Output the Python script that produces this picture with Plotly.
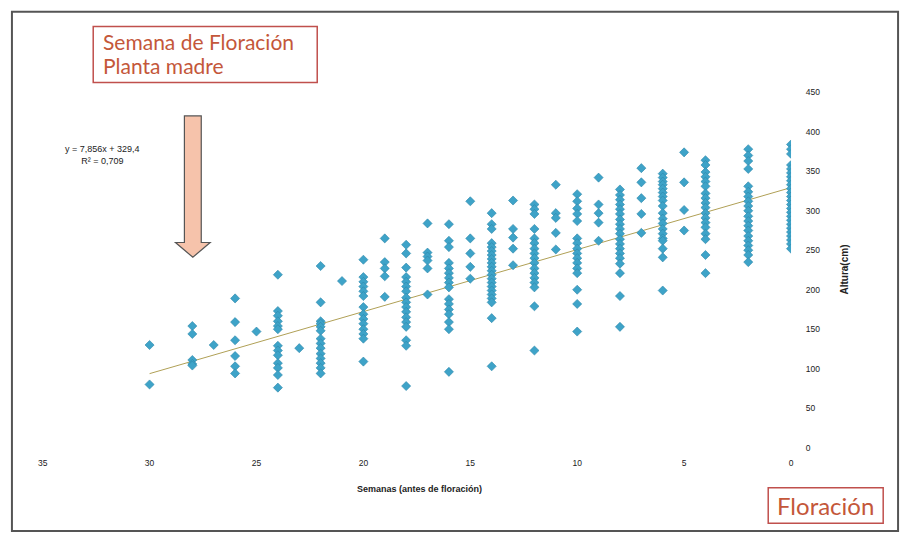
import plotly.graph_objects as go

# alturas (cm) por semana antes de floracion
s30 = [130, 80]
s28 = [154, 144, 111, 106, 104]
s27 = [130]
s26 = [189, 159, 136, 116, 103, 94]
s25 = [147]
s24 = [219, 173, 167, 160, 154, 150, 129, 123, 117, 107, 101, 92, 76]
s23 = [126]
s22 = [230, 184, 160, 157, 153, 148, 138, 132, 126, 119, 113, 107, 101, 94]
s21 = [211]
s20 = [238, 216, 210, 204, 198, 192, 178, 169, 163, 157, 150, 144, 138, 109]
s19 = [265, 235, 227, 217, 191]
s18 = [257, 246, 228, 216, 210, 204, 198, 190, 184, 178, 172, 165, 159, 153, 136, 129, 78]
s17 = [284, 247, 242, 237, 227, 194]
s16 = [283, 262, 254, 234, 227, 221, 215, 209, 203, 188, 182, 175, 169, 159, 150, 96]
s15 = [312, 265, 246, 229, 214]
s14 = [297, 283, 277, 259, 254, 249, 244, 239, 234, 229, 224, 219, 214, 209, 204, 199, 194, 189, 184, 164, 103]
s13 = [313, 277, 266, 252, 231]
s12 = [308, 302, 296, 277, 265, 259, 252, 246, 240, 234, 227, 221, 215, 209, 203, 179, 123]
s11 = [333, 297, 291, 272, 251]
s10 = [321, 312, 303, 296, 287, 265, 259, 252, 246, 240, 234, 227, 221, 200, 182, 147]
s9 = [342, 308, 297, 285, 262]
s8 = [327, 320, 314, 308, 302, 296, 289, 283, 277, 271, 264, 258, 252, 246, 240, 233, 221, 192, 153]
s7 = [354, 336, 316, 296, 272]
s6 = [347, 342, 337, 333, 328, 323, 318, 313, 306, 297, 290, 284, 277, 271, 265, 262, 252, 241, 199]
s5 = [374, 336, 301, 275]
s4 = [364, 358, 349, 343, 337, 331, 322, 316, 310, 304, 297, 291, 285, 279, 271, 264, 244, 221]
s2 = [378, 370, 363, 353, 331, 324, 318, 312, 306, 300, 293, 287, 281, 275, 268, 262, 256, 250, 244, 235]
s0 = [384, 378, 372, 358, 353, 348, 343, 338, 333, 328, 323, 318, 313, 308, 303, 298, 293, 288, 283, 278, 273, 268, 263, 258, 252]

grupos = [(30, s30), (28, s28), (27, s27), (26, s26), (25, s25), (24, s24), (23, s23),
          (22, s22), (21, s21), (20, s20), (19, s19), (18, s18), (17, s17), (16, s16),
          (15, s15), (14, s14), (13, s13), (12, s12), (11, s11), (10, s10), (9, s9),
          (8, s8), (7, s7), (6, s6), (5, s5), (4, s4), (2, s2), (0, s0)]

# linea de tendencia y = 7,856x + 329,4
pendiente = 7.856
intercepto = 329.4
x_tend = [30, 0]

x_ticks = [35, 30, 25, 20, 15, 10, 5, 0]
y_ticks = [0, 50, 100, 150, 200, 250, 300, 350, 400, 450]

W, H = 908, 539


def px(x):
    return x / W


def py(y):
    return 1 - y / H


xs, ys = [], []
for sem, alturas in grupos:
    xs += [sem] * len(alturas)
    ys += alturas

fig = go.Figure()
fig.add_trace(go.Scatter(
    x=x_tend, y=[intercepto - pendiente * v for v in x_tend],
    mode="lines", line=dict(color="#b0a056", width=1), hoverinfo="skip"))
fig.add_trace(go.Scatter(
    x=xs, y=ys, mode="markers",
    marker=dict(symbol="diamond", size=7, color="#3ea3c8",
                line=dict(color="#2b86aa", width=0.6))))

fuente = "Liberation Sans"
fig.update_layout(
    width=W, height=H, showlegend=False,
    margin=dict(l=0, r=0, t=0, b=0),
    paper_bgcolor="white", plot_bgcolor="white",
    font=dict(family=fuente, color="#222"),
    xaxis=dict(domain=[px(38), px(793)], range=[35, 0], tickvals=x_ticks,
               showgrid=False, zeroline=False, showline=False,
               ticks="outside", ticklen=7, tickcolor="rgba(0,0,0,0)",
               tickfont=dict(size=8.5, color="#222")),
    yaxis=dict(domain=[py(451), py(89)], range=[0, 450], tickvals=y_ticks, side="right",
               showgrid=False, zeroline=False, showline=False,
               ticks="outside", ticklen=12, tickcolor="rgba(0,0,0,0)",
               tickfont=dict(size=8.5, color="#222")),
)

# marco exterior
fig.add_shape(type="rect", xref="paper", yref="paper",
              x0=px(7), x1=px(901), y0=py(536), y1=py(7),
              line=dict(color="#555", width=2))

# cajas de texto
fig.add_shape(type="rect", xref="paper", yref="paper",
              x0=px(89), x1=px(315), y0=py(79), y1=py(22),
              line=dict(color="#c0504d", width=1.5), fillcolor="white")
fig.add_shape(type="rect", xref="paper", yref="paper",
              x0=px(770), x1=px(886), y0=py(528), y1=py(492),
              line=dict(color="#c0504d", width=1.5), fillcolor="white")

# flecha
pts = [(181, 113), (198, 113), (198, 242), (207, 242), (189.5, 257), (172, 242), (181, 242)]
path = "M " + " L ".join(f"{px(a)},{py(b)}" for a, b in pts) + " Z"
fig.add_shape(type="path", xref="paper", yref="paper", path=path,
              fillcolor="#f6c3ab", line=dict(color="#555", width=1.2))

naranja = "#c4573a"
anots = [
    dict(x=px(97), y=py(37), text="Semana de Floración", xanchor="left",
         font=dict(family="Lato", size=21, color=naranja)),
    dict(x=px(97), y=py(62), text="Planta madre", xanchor="left",
         font=dict(family="Lato", size=21, color=naranja)),
    dict(x=px(828), y=py(510), text="Floración", xanchor="center",
         font=dict(family="Lato", size=24, color=naranja)),
    dict(x=px(98), y=py(153), text="y = 7,856x + 329,4<br>R² = 0,709", align="center",
         xanchor="center", font=dict(size=9, color="#222")),
    dict(x=px(418), y=py(493), text="<b>Semanas (antes de floración)</b>",
         xanchor="center", font=dict(size=9, color="#222")),
    dict(x=px(847), y=py(270), text="<b>Altura(cm)</b>", textangle=-90,
         xanchor="center", font=dict(size=10, color="#222")),
]
for a in anots:
    fig.add_annotation(xref="paper", yref="paper", showarrow=False, yanchor="middle", **a)

fig.write_html("out.html", config={"displayModeBar": False},
               post_script="document.body.style.margin='0';")
